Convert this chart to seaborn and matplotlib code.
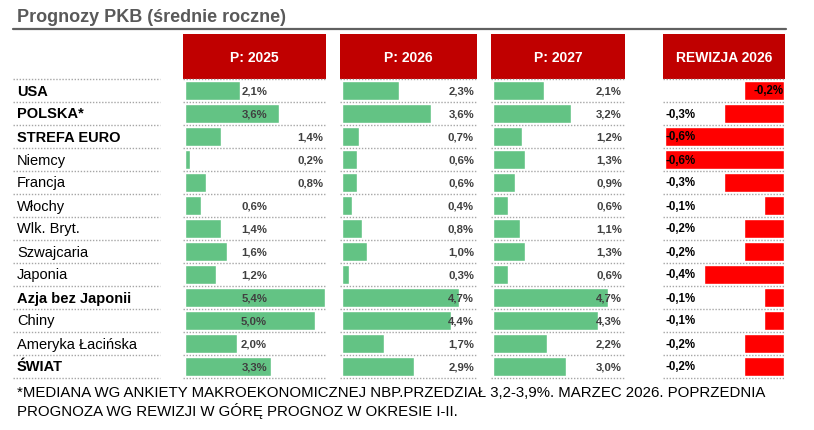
"""Prognozy PKB - tabela z paskami danych (seaborn)."""
import matplotlib
matplotlib.use('Agg')
import matplotlib.pyplot as plt
import matplotlib.transforms as mtransforms
from matplotlib.lines import Line2D
import pandas as pd
import seaborn as sns

countries = ['USA', 'POLSKA*', 'STREFA EURO', 'Niemcy', 'Francja', 'Włochy',
             'Wlk. Bryt.', 'Szwajcaria', 'Japonia', 'Azja bez Japonii',
             'Chiny', 'Ameryka Łacińska', 'ŚWIAT']
bold_rows = ['USA', 'POLSKA*', 'STREFA EURO', 'Azja bez Japonii', 'ŚWIAT']
gdp_2025 = [2.1, 3.6, 1.4, 0.2, 0.8, 0.6, 1.4, 1.6, 1.2, 5.4, 5.0, 2.0, 3.3]
gdp_2026 = [2.3, 3.6, 0.7, 0.6, 0.6, 0.4, 0.8, 1.0, 0.3, 4.7, 4.4, 1.7, 2.9]
gdp_2027 = [2.1, 3.2, 1.2, 1.3, 0.9, 0.6, 1.1, 1.3, 0.6, 4.7, 4.3, 2.2, 3.0]
rev_2026 = [-0.2, -0.3, -0.6, -0.6, -0.3, -0.1, -0.2, -0.2, -0.4, -0.1,
            -0.1, -0.2, -0.2]
headers = ['P: 2025', 'P: 2026', 'P: 2027', 'REWIZJA 2026']
title = 'Prognozy PKB (średnie roczne)'
footnote = ['*MEDIANA WG ANKIETY MAKROEKONOMICZNEJ NBP.PRZEDZIAŁ 3,2-3,9%. '
            'MARZEC 2026. POPRZEDNIA',
            'PROGNOZA WG REWIZJI W GÓRĘ PROGNOZ W OKRESIE I-II.']

sns.set_style('white')
plt.rcParams['font.family'] = ['Liberation Sans', 'DejaVu Sans']

W, H = 814, 431
fig = plt.figure(figsize=(W / 100, H / 100), dpi=100)
fig.patch.set_facecolor('white')

TOP, BOTTOM = 80, 379  # table rows in pixels


def px_axes(x0, y0, x1, y1):
    """Axes placed by pixel box (top-left origin)."""
    ax = fig.add_axes([x0 / W, 1 - y1 / H, (x1 - x0) / W, (y1 - y0) / H])
    ax.set_xticks([])
    ax.set_yticks([])
    for sp in ax.spines.values():
        sp.set_visible(False)
    ax.patch.set_alpha(0)
    return ax


def fmt(v):
    return f'{v:.1f}%'.replace('.', ',')


def separators(ax):
    for b in range(len(countries) + 1):
        ax.axhline(b - 0.5, color='#a6a6a6', lw=1, ls=(0, (1, 1.2)),
                   clip_on=False)


# title + rule
fig.text(17 / W, 1 - 17 / H, title, fontsize=13, fontweight='bold',
         color='#595959', ha='left', va='center')
fig.add_artist(Line2D([13 / W, 786 / W], [1 - 30 / H, 1 - 30 / H],
                      color='#606060', lw=1.6))

# row labels
ax_lab = px_axes(13, TOP, 160, BOTTOM)
ax_lab.set_ylim(len(countries) - 0.5, -0.5)
tr = mtransforms.blended_transform_factory(ax_lab.transAxes, ax_lab.transData)
for i, name in enumerate(countries):
    ax_lab.text(4 / 147, i, name, transform=tr, ha='left', va='center',
                fontsize=10.5, color='black',
                fontweight='bold' if name in bold_rows else 'normal')
separators(ax_lab)

# columns: (pixel box x0, x1, pixel of zero, pixels per 1%)
columns = [
    (gdp_2025, 183, 326, 185, 26.0, '#63C384'),
    (gdp_2026, 340, 477, 342, 24.8, '#63C384'),
    (gdp_2027, 491, 625, 493, 24.4, '#63C384'),
    (rev_2026, 663, 785, 784, 199.0, '#FF0000'),
]
far_2025 = ['STREFA EURO', 'Niemcy', 'Francja']

for k, (vals, x0, x1, zero, ppu, col) in enumerate(columns):
    # header box
    axh = px_axes(x0, 35, x1, 80)
    axh.patch.set_alpha(1)
    axh.set_facecolor('#C00000')
    axh.text(0.5, 0.5, headers[k], transform=axh.transAxes, ha='center',
             va='center', color='white', fontsize=10, fontweight='bold')

    ax = px_axes(x0, TOP, x1, BOTTOM)
    df = pd.DataFrame({'kraj': countries, 'v': vals})
    sns.barplot(data=df, x='v', y='kraj', order=countries, orient='h',
                color=col, saturation=1, width=0.83, errorbar=None, ax=ax)
    ax.set_xlim((x0 - zero) / ppu, (x1 - zero) / ppu)
    ax.set_ylim(len(countries) - 0.5, -0.5)
    ax.set_xlabel('')
    ax.set_ylabel('')
    ax.set_xticks([])
    ax.set_yticks([])
    separators(ax)

    tr = mtransforms.blended_transform_factory(ax.transAxes, ax.transData)
    for i, v in enumerate(vals):
        if k == 3:
            if countries[i] == 'USA':
                ax.text((783 - x0) / (x1 - x0), i, fmt(v), transform=tr,
                        ha='right', va='center', fontsize=8.3,
                        fontweight='bold', color='black')
            else:
                ax.text((666 - x0) / (x1 - x0), i, fmt(v), transform=tr,
                        ha='left', va='center', fontsize=8.3,
                        fontweight='bold', color='black')
        else:
            if k == 0:
                xr = 323 if countries[i] in far_2025 else 267
            else:
                xr = x1 - 3
            ax.text((xr - x0) / (x1 - x0), i, fmt(v), transform=tr,
                    ha='right', va='center', fontsize=8.2,
                    fontweight='bold', color='#404040')

# footnote
fig.text(17 / W, 1 - 393 / H, footnote[0], fontsize=10.8,
         ha='left', va='center', color='black')
fig.text(17 / W, 1 - 411 / H, footnote[1], fontsize=10.8,
         ha='left', va='center', color='black')

fig.savefig('out.png', dpi=100)
